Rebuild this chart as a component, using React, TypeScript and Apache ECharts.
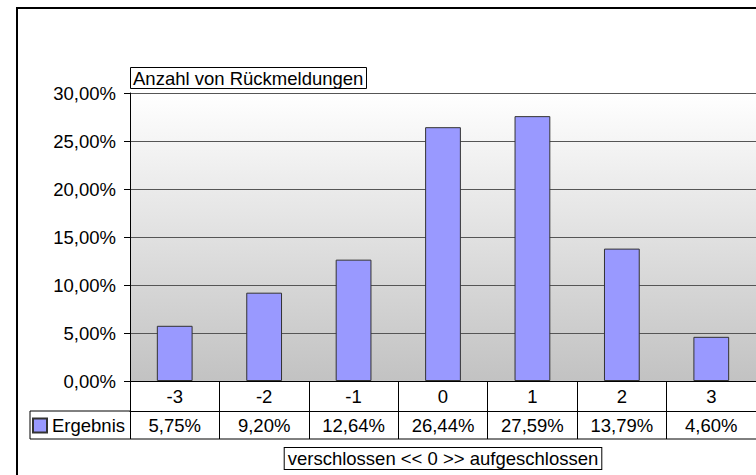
import React, { useEffect, useRef } from "react";
import * as echarts from "echarts";

const categories = ["-3", "-2", "-1", "0", "1", "2", "3"];
const seriesName = "Ergebnis";
const values = [5.75, 9.2, 12.64, 26.44, 27.59, 13.79, 4.6];
const chartTitle = "Anzahl von Rückmeldungen";
const axisTitle = "verschlossen << 0 >> aufgeschlossen";
const yMin = 0;
const yMax = 30;
const yStep = 5;

const fmt = (v: number) => v.toFixed(2).replace(".", ",") + "%";

const FONT = "'Liberation Sans', Arial, Helvetica, sans-serif";
const FS = 18.5;

export default function App() {
  const ref = useRef<HTMLDivElement>(null);
  useEffect(() => {
    if (!ref.current) return;
    const chart = echarts.init(ref.current, undefined, { renderer: "svg" });
    const gL = 130, gT = 93, gW = 630, gH = 288;
    const row1 = gT + gH + 30; // 411
    const row2 = row1 + 28; // 439
    chart.setOption({
      animation: false,
      backgroundColor: "#ffffff",
      textStyle: { fontFamily: FONT, color: "#000" },
      title: {
        text: chartTitle,
        left: gL,
        top: 67,
        padding: [2, 3, 1, 3],
        borderColor: "#000",
        borderWidth: 1,
        backgroundColor: "#fff",
        textStyle: { fontFamily: FONT, fontSize: FS, fontWeight: "normal", color: "#000" },
      },
      legend: {
        left: 32,
        top: row1 + 5,
        padding: 0,
        itemWidth: 14,
        itemHeight: 14,
        itemGap: 4,
        icon: "rect",
        textStyle: { fontFamily: FONT, fontSize: FS, color: "#000" },
        data: [seriesName],
      },
      grid: {
        left: gL,
        top: gT,
        width: gW,
        height: gH,
        show: true,
        borderWidth: 0,
        backgroundColor: new echarts.graphic.LinearGradient(0, 0, 0, 1, [
          { offset: 0, color: "#ffffff" },
          { offset: 1, color: "#c2c2c2" },
        ]),
      },
      xAxis: [
        {
          type: "category",
          data: categories,
          position: "bottom",
          axisLine: { show: true, lineStyle: { color: "#000", width: 1 } },
          axisTick: { show: true, length: 30, interval: 0, lineStyle: { color: "#000" } },
          axisLabel: { fontFamily: FONT, fontSize: FS, color: "#000", margin: 6, interval: 0 },
          splitLine: { show: false },
        },
        {
          type: "category",
          data: values.map(fmt),
          position: "bottom",
          offset: 30,
          axisLine: { show: true, lineStyle: { color: "#000", width: 1 } },
          axisTick: { show: true, length: 28, interval: 0, lineStyle: { color: "#000" } },
          axisLabel: { fontFamily: FONT, fontSize: FS, color: "#000", margin: 5, interval: 0 },
          name: axisTitle,
          nameLocation: "middle",
          nameGap: 37,
          nameTextStyle: {
            fontFamily: FONT,
            fontSize: FS,
            color: "#000",
            borderColor: "#000",
            borderWidth: 1,
            padding: [1, 3, 1, 3],
            backgroundColor: "#fff",
          },
        },
      ],
      yAxis: {
        type: "value",
        min: yMin,
        max: yMax,
        interval: yStep,
        axisLine: { show: true, lineStyle: { color: "#000", width: 1 } },
        axisTick: { show: true, length: 6, lineStyle: { color: "#000" } },
        axisLabel: {
          fontFamily: FONT,
          fontSize: FS,
          color: "#000",
          margin: 14,
          formatter: (v: number) => fmt(v),
        },
        splitLine: { show: true, lineStyle: { color: "#555", width: 1 } },
      },
      series: [
        {
          name: seriesName,
          type: "bar",
          xAxisIndex: 0,
          data: values,
          barWidth: "40%",
          itemStyle: { color: "#9999ff", borderColor: "#333", borderWidth: 1 },
        },
      ],
      graphic: [
        {
          type: "rect",
          shape: { x: 17, y: 8, width: 900, height: 600 },
          style: { fill: "none", stroke: "#000", lineWidth: 2 },
          silent: true,
          z: 100,
        },
        {
          type: "line",
          shape: { x1: 30, y1: row1, x2: gL, y2: row1 },
          style: { stroke: "#000", lineWidth: 1 },
        },
        {
          type: "line",
          shape: { x1: 30, y1: row2, x2: gL + gW, y2: row2 },
          style: { stroke: "#000", lineWidth: 1 },
        },
        {
          type: "line",
          shape: { x1: 30, y1: row1, x2: 30, y2: row2 },
          style: { stroke: "#000", lineWidth: 1 },
        },
      ],
    });
    return () => chart.dispose();
  }, []);
  return (
    <div
      ref={ref}
      style={{ position: "absolute", left: 0, top: 0, width: 756, height: 475 }}
    />
  );
}
